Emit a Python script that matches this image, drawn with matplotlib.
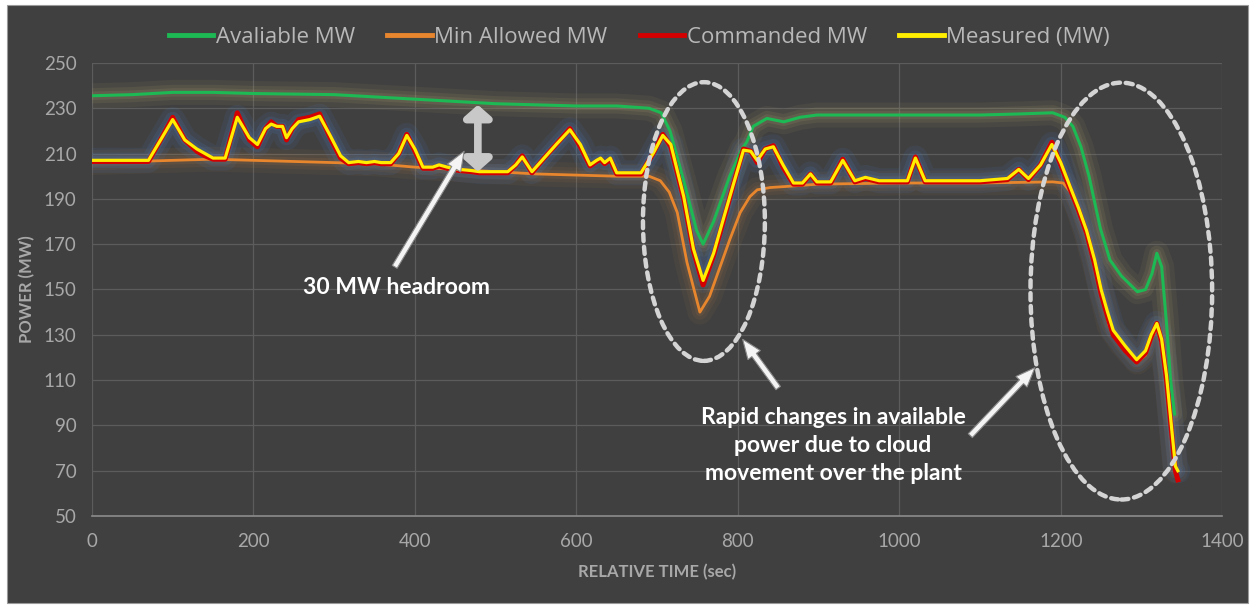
import matplotlib
matplotlib.use('Agg')
import matplotlib.pyplot as plt
from matplotlib.patches import Ellipse, Rectangle, FancyArrowPatch
import numpy as np

# ---------------- dados ----------------
avail_t = [0, 50, 100, 150, 200, 300, 350, 400, 450, 500, 550, 600, 650, 690, 705, 716, 733,
           749, 757, 770, 790, 805, 811, 819, 836, 857, 877, 898, 1000, 1100, 1150, 1190, 1205,
           1215, 1225, 1235, 1249, 1261, 1275, 1295, 1305, 1313, 1319, 1325, 1331, 1336, 1341]
avail_mw = [235.5, 236, 237, 237, 236.5, 236, 235, 234, 233, 232, 231.5, 231, 231, 230, 228, 220, 198,
            176, 170, 180, 200, 212, 215, 222, 225.5, 224, 226, 227, 227, 227, 227.5, 228, 226,
            222, 213, 200, 177, 163, 156, 149, 150, 157, 166, 160, 135, 110, 95]

minal_t = [0, 50, 100, 150, 200, 250, 300, 350, 400, 450, 500, 550, 600, 650, 690, 704, 715, 725,
           737, 753, 765, 778, 790, 803, 815, 824, 840, 861, 900, 1000, 1100, 1190, 1203, 1212,
           1222, 1232, 1242, 1250, 1260, 1275, 1295, 1305, 1312, 1319, 1325, 1331, 1337, 1342]
minal_mw = [206, 206.5, 207, 207.5, 207, 206.5, 206, 205.5, 204, 203, 202, 201, 200.5, 200, 200, 198, 193, 184,
            162, 140, 147, 160, 172, 184, 191, 194, 195, 195.5, 196.5, 197, 197, 197.5, 197, 193,
            185, 174, 161, 149, 134, 126, 118, 121, 128, 133, 126, 110, 88, 70]

meas_t = [0, 70, 85, 100, 115, 130, 140, 150, 165, 180, 195, 205, 215, 222, 229, 236, 241, 248, 256,
          270, 282, 295, 308, 318, 330, 340, 350, 358, 370, 380, 390, 400, 410, 422, 430, 440, 455,
          470, 480, 490, 500, 515, 525, 533, 545, 560, 575, 592, 605, 617, 625, 630, 635, 642, 650,
          665, 680, 695, 707, 717, 733, 745, 757, 770, 782, 795, 807, 816, 824, 834, 844, 856, 869,
          880, 890, 898, 915, 930, 945, 958, 975, 1000, 1010, 1020, 1032, 1050, 1100, 1134, 1148,
          1160, 1175, 1189, 1200, 1212, 1222, 1232, 1242, 1250, 1258, 1265, 1280, 1294, 1305, 1312,
          1319, 1325, 1331, 1337, 1342, 1345]
meas_mw = [207, 207, 216, 225, 216, 212, 210, 208, 208, 226, 217, 214, 221, 223, 222, 222, 217, 221, 224,
           225, 226.5, 218, 209, 206, 206.5, 206, 206.5, 206, 206, 210, 218, 212, 204, 204, 205, 204, 203,
           202.5, 202, 202, 202, 202, 205, 208.5, 202, 208, 214, 220.5, 214, 205, 207, 208, 206, 208, 201.5,
           201.5, 201.5, 210, 218, 214, 191, 168, 154, 166, 181, 197, 211.5, 211, 207, 212, 213, 205, 197,
           197, 201, 197.5, 197.5, 207, 198, 199.5, 198, 198, 198, 208, 198, 198, 198, 199, 203,
           199, 205, 214, 206, 195, 186, 176, 163, 150, 140, 132, 125, 119, 123, 130,
           135, 128, 112, 90, 72, 70]
cmd_mw = [206.5, 206.5, 216, 226, 216, 211, 209, 207.5, 207.5, 228, 216, 213, 221, 224, 222, 222, 216, 221, 225,
          226, 227.5, 217, 208, 205.5, 206, 205.5, 206, 205.5, 205.5, 210, 218.5, 211, 203.5, 203.5, 204.5, 203.5, 202.5,
          202, 201.5, 201.5, 201.5, 201.5, 205, 209, 201.5, 208, 214, 221, 213, 204.5, 206.5, 207.5, 205.5, 207.5, 201,
          201, 201, 210, 218.5, 213, 190, 167, 152, 165, 180, 197, 212, 211, 206, 212, 213.5, 204, 196.5,
          196.5, 201, 197, 197, 207.5, 197.5, 199, 197.5, 197.5, 197.5, 208.5, 197.5, 197.5, 197.5, 198.5, 203,
          198.5, 205, 215, 205, 194, 185, 175, 161, 148, 138, 130, 123, 118, 122, 129,
          135, 127, 110, 88, 70, 66]

series_names = ['Avaliable MW', 'Min Allowed MW', 'Commanded MW', 'Measured (MW)']
x_ticks = [0, 200, 400, 600, 800, 1000, 1200, 1400]
y_ticks = [50, 70, 90, 110, 130, 150, 170, 190, 210, 230, 250]

# ---------------- figura ----------------
bg = '#404040'
txt_gray = '#a8a8a8'
fig = plt.figure(figsize=(12.51, 6.05), dpi=100, facecolor='white')
fig.patches.append(Rectangle((0.0056, 0.0033), 0.992, 0.988, transform=fig.transFigure,
                             facecolor=bg, edgecolor='#9a9a9a', lw=0.8, zorder=-10))
ax = fig.add_axes([0.0735, 0.147, 0.9035, 0.749])
ax.set_facecolor(bg)

# brilho (glow) por baixo das linhas
for w, a in [(18, 0.09), (11, 0.13), (6, 0.17)]:
    ax.plot(avail_t, avail_mw, color='#a89a6a', lw=w, alpha=a, solid_capstyle='round', zorder=1)
    ax.plot(minal_t, minal_mw, color='#c08040', lw=w, alpha=a * 0.7, solid_capstyle='round', zorder=1)
    ax.plot(meas_t, meas_mw, color='#4a78b8', lw=w, alpha=a * 1.3, solid_capstyle='round', zorder=1)

l1, = ax.plot(avail_t, avail_mw, color='#1db954', lw=2.2, zorder=3, label=series_names[0])
l2, = ax.plot(minal_t, minal_mw, color='#e8862e', lw=2.0, zorder=3, label=series_names[1])
l3, = ax.plot(meas_t, cmd_mw, color='#d40000', lw=3.6, zorder=4, label=series_names[2])
l4, = ax.plot(meas_t, meas_mw, color='#ffee00', lw=2.3, zorder=5, label=series_names[3])

ax.set_xlim(0, 1400)
ax.set_ylim(50, 250)
ax.set_xticks(x_ticks)
ax.set_yticks(y_ticks)
ax.grid(True, color='#5c5c5c', lw=0.9)
ax.set_axisbelow(True)
for s in ['top', 'right', 'left']:
    ax.spines[s].set_visible(False)
ax.spines['bottom'].set_color('#8c8c8c')
ax.spines['bottom'].set_linewidth(1.2)
ax.tick_params(length=0, colors=txt_gray, labelsize=13.5)
ax.tick_params(axis='x', pad=12)
ax.tick_params(axis='y', pad=11)
for lab in ax.get_xticklabels() + ax.get_yticklabels():
    lab.set_family('Lato')

ax.set_xlabel('RELATIVE TIME (sec)', color=txt_gray, fontsize=12, fontweight='bold', family='Lato', labelpad=10)
ax.set_ylabel('POWER (MW)', color=txt_gray, fontsize=12, fontweight='bold', family='Lato', labelpad=6)

leg = fig.legend(handles=[l1, l2, l3, l4], loc='center', bbox_to_anchor=(0.511, 0.938), ncol=4,
                 frameon=False, handlelength=2.0, handletextpad=0.12, columnspacing=1.45,
                 prop={'family': 'Open Sans', 'size': 16})
for t in leg.get_texts():
    t.set_color('#b8b8b8')
for h in leg.get_lines():
    h.set_linewidth(3.5)

# elipses tracejadas
for c, w, h in [((758, 180), 151, 123), ((1275, 149.3), 225, 184)]:
    ax.add_patch(Ellipse(c, w, h, fill=False, edgecolor='#d4d4d4', lw=3.2,
                         linestyle=(0, (1.6, 1.3)), capstyle='round', zorder=6))

# seta dupla cinza (headroom)
ax.annotate('', xy=(478, 231.5), xytext=(478, 202),
            arrowprops=dict(arrowstyle='<|-|>,head_length=0.35,head_width=0.4', lw=5.5,
                            color='#c8c8c8', mutation_scale=20, shrinkA=0, shrinkB=0), zorder=7)

# setas brancas
arrows = [((375, 160), (461, 211)), ((850, 106.5), (806, 128)), ((1088, 85.5), (1168, 115.5))]
for (x0, y0), (x1, y1) in arrows:
    ax.add_patch(FancyArrowPatch((x0, y0), (x1, y1),
                                 arrowstyle='simple,head_length=0.7,head_width=0.55,tail_width=0.2',
                                 mutation_scale=20, fc='#f4f4f4', ec='#8a8a8a', lw=0.8,
                                 shrinkA=0, shrinkB=0, zorder=7))

ax.text(377, 151, '30 MW headroom', color='white', fontsize=16.5, fontweight='bold',
        family='Lato', ha='center', va='center', zorder=8)
ax.text(918, 81, 'Rapid changes in available\npower due to cloud\nmovement over the plant',
        color='white', fontsize=16.5, fontweight='bold', family='Lato', ha='center', va='center',
        linespacing=1.42, zorder=8)

plt.savefig('out.png', dpi=100, facecolor=fig.get_facecolor())
